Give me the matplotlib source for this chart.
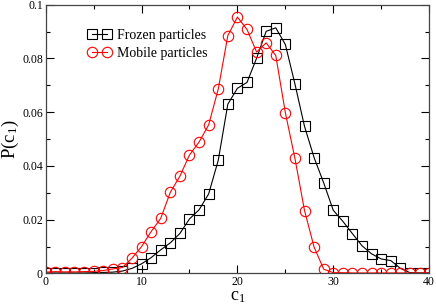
import matplotlib
matplotlib.use('Agg')
import matplotlib.pyplot as plt
import numpy as np
from matplotlib.ticker import MultipleLocator, FuncFormatter

plt.rcParams['font.family'] = 'Liberation Serif'
plt.rcParams['mathtext.fontset'] = 'custom'
plt.rcParams['mathtext.rm'] = 'Liberation Serif'
plt.rcParams['mathtext.it'] = 'Liberation Serif'

c1 = np.arange(0, 41)

frozen = [0.0002, 0.0002, 0.0002, 0.0002, 0.0002, 0.0003, 0.0004, 0.0005,
          0.0009, 0.0019, 0.0036, 0.0059, 0.0088, 0.0114, 0.0149, 0.0203,
          0.0237, 0.0296, 0.0421, 0.0630, 0.0689, 0.0711, 0.0801, 0.0901,
          0.0914, 0.0852, 0.0705, 0.0547, 0.0431, 0.0337, 0.0235, 0.0194,
          0.0148, 0.0103, 0.0073, 0.0054, 0.0048, 0.0019, 0.0003, 0.0002,
          0.0002]

mobile = [0.0005, 0.0007, 0.0006, 0.0006, 0.0007, 0.0008, 0.0011, 0.0017,
          0.0022, 0.0057, 0.0100, 0.0156, 0.0205, 0.0302, 0.0362, 0.0441,
          0.0489, 0.0553, 0.0686, 0.0885, 0.0954, 0.0908, 0.0824, 0.0858,
          0.0811, 0.0598, 0.0428, 0.0234, 0.0098, 0.0016, 0.0003, 0.0003,
          0.0002, 0.0002, 0.0002, 0.0002, 0.0002, 0.0002, 0.0002, 0.0002,
          0.0002]

fig = plt.figure(figsize=(4.36, 3.05), dpi=100)
ax = fig.add_axes([0.1048, 0.1033, 0.8795, 0.8813])

ax.plot(c1, frozen, color='black', lw=0.8, marker='s', ms=6.5,
        mfc='none', mec='black', mew=0.8, label='Frozen particles')
ax.plot(c1, mobile, color='red', lw=0.8, marker='o', ms=7.5,
        mfc='none', mec='red', mew=0.8, label='Mobile particles')

ax.set_xlim(0, 40)
ax.set_ylim(0, 0.1)
ax.xaxis.set_major_locator(MultipleLocator(10))
ax.xaxis.set_minor_locator(MultipleLocator(5))
ax.yaxis.set_major_locator(MultipleLocator(0.02))
ax.yaxis.set_minor_locator(MultipleLocator(0.01))
ax.yaxis.set_major_formatter(FuncFormatter(lambda v, p: '0' if abs(v) < 1e-9 else ('%.2f' % v).rstrip('0')))
ax.tick_params(which='both', direction='in', top=True, right=True,
               labelsize=8.5, width=0.8, pad=2)
ax.tick_params(which='major', length=6)
ax.tick_params(which='minor', length=3)
for s in ax.spines.values():
    s.set_linewidth(0.9)
    s.set_color('#444444')

ax.set_xlabel('c$_1$', fontsize=13, labelpad=0)
ax.set_ylabel('P(c$_1$)', fontsize=13.5, labelpad=1)

ax.legend(loc='upper left', bbox_to_anchor=(0.095, 0.93), frameon=False,
          fontsize=10, numpoints=2, handlelength=1.7, handletextpad=0.4,
          labelspacing=0.35, borderaxespad=0)

plt.savefig('out.png', dpi=100)
